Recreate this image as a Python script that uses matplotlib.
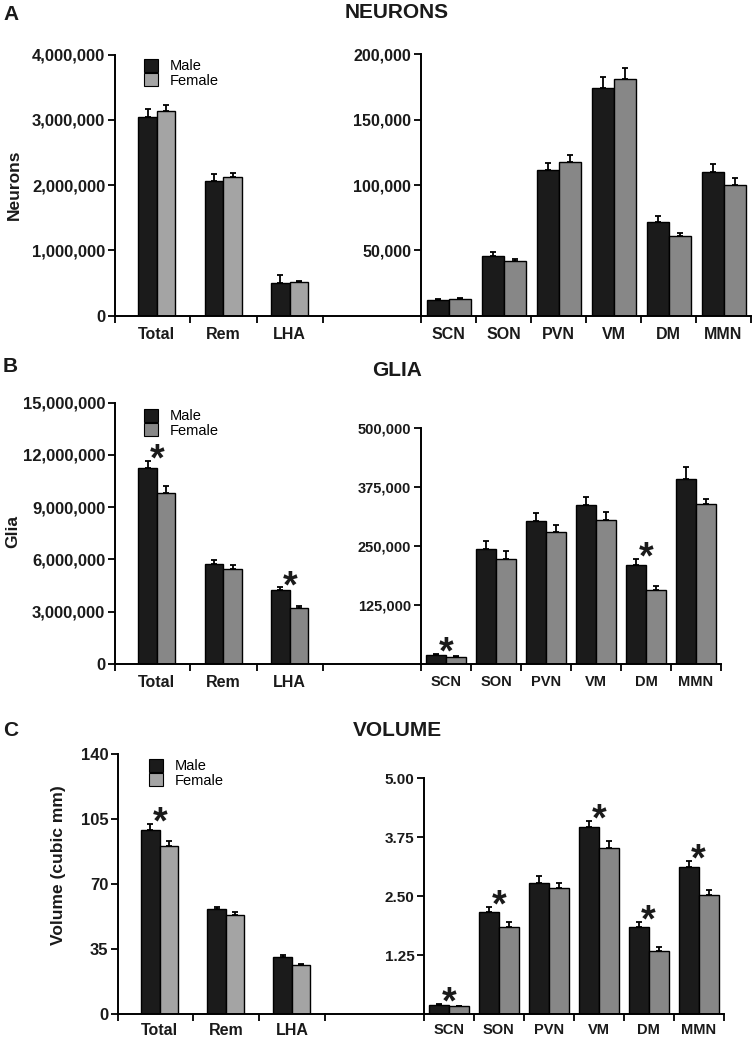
import matplotlib
matplotlib.use("Agg")
import matplotlib.pyplot as plt
from matplotlib.patches import Patch
from matplotlib.lines import Line2D
import numpy as np

plt.rcParams["font.family"] = ["Liberation Sans", "DejaVu Sans"]

# ---------------- data ----------------
categories_main = ["Total", "Rem", "LHA"]
categories_nuclei = ["SCN", "SON", "PVN", "VM", "DM", "MMN"]
series_names = ["Male", "Female"]

neurons_main_male = [3040000, 2060000, 500000]
neurons_main_male_err = [125000, 107000, 122000]
neurons_main_female = [3130000, 2120000, 515000]
neurons_main_female_err = [95000, 72000, 15000]
neurons_nuc_male = [12000, 45800, 111300, 174700, 71400, 110200]
neurons_nuc_male_err = [1000, 2800, 5600, 7700, 4600, 5600]
neurons_nuc_female = [12500, 41900, 117700, 181600, 60900, 100000]
neurons_nuc_female_err = [1300, 1800, 5600, 8200, 2800, 5600]
neurons_main_sig = [False, False, False]
neurons_nuc_sig = [False, False, False, False, False, False]

glia_main_male = [11230000, 5740000, 4250000]
glia_main_male_err = [420000, 230000, 150000]
glia_main_female = [9830000, 5430000, 3230000]
glia_main_female_err = [400000, 230000, 115000]
glia_nuc_male = [19800, 243300, 303400, 337300, 209300, 391800]
glia_nuc_male_err = [1500, 17700, 17000, 16300, 12700, 26000]
glia_nuc_female = [15600, 222800, 280000, 304800, 155600, 338000]
glia_nuc_female_err = [1000, 15500, 15000, 17000, 9200, 10600]
glia_main_sig = [True, False, True]
glia_nuc_sig = [True, False, False, False, True, False]

volume_main_male = [99.3, 56.7, 30.5]
volume_main_male_err = [3.0, 1.1, 1.1]
volume_main_female = [90.5, 53.5, 26.6]
volume_main_female_err = [2.5, 1.6, 0.5]
volume_nuc_male = [0.20, 2.16, 2.78, 3.96, 1.84, 3.12]
volume_nuc_male_err = [0.01, 0.12, 0.15, 0.14, 0.11, 0.13]
volume_nuc_female = [0.16, 1.85, 2.67, 3.52, 1.34, 2.53]
volume_nuc_female_err = [0.01, 0.10, 0.11, 0.16, 0.08, 0.09]
volume_main_sig = [True, False, False]
volume_nuc_sig = [True, True, False, True, True, True]

neurons_main_ticks = [0, 1000000, 2000000, 3000000, 4000000]
neurons_nuc_ticks = [50000, 100000, 150000, 200000]
glia_main_ticks = [0, 3000000, 6000000, 9000000, 12000000, 15000000]
glia_nuc_ticks = [125000, 250000, 375000, 500000]
volume_main_ticks = [0, 35, 70, 105, 140]
volume_nuc_ticks = [1.25, 2.50, 3.75, 5.00]
volume_main_ticklabels = ["0", "35", "70", "105", "140"]
volume_nuc_ticklabels = ["1.25", "2.50", "3.75", "5.00"]

# ---------------- style ----------------
MALE = "#1b1b1b"
FEMALE_LIGHT = "#a4a4a4"
FEMALE_MID = "#878787"
TXT = "#1a1a1a"
SP_LW = 1.4

W, H = 752, 1038
fig = plt.figure(figsize=(W / 100, H / 100), dpi=100)


def add_ax(x0, x1, ytop, ybot):
    return fig.add_axes([x0 / W, 1 - ybot / H, (x1 - x0) / W, (ybot - ytop) / H])


def fmt_comma(v):
    return "{:,}".format(int(v))


def draw_panel(ax, cats, male, male_err, female, female_err, sig, yticks, ylabels,
               ymax, xlim, width, female_color, tick_fs, cat_fs, boundaries, cat_pad=8):
    x = np.arange(len(cats))
    ax.bar(x - width / 2, male, width, color=MALE, edgecolor="black", linewidth=1.0, zorder=2)
    ax.bar(x + width / 2, female, width, color=female_color, edgecolor="black", linewidth=1.0, zorder=2)
    z = np.zeros(len(cats))
    ax.errorbar(x - width / 2, male, yerr=[z, male_err], fmt="none", ecolor="black",
                elinewidth=1.3, capsize=2.5, capthick=1.3, zorder=1)
    ax.errorbar(x + width / 2, female, yerr=[z, female_err], fmt="none", ecolor="black",
                elinewidth=1.3, capsize=2.5, capthick=1.3, zorder=1)
    for i, s in enumerate(sig):
        if s:
            ax.annotate("*", xy=(x[i], male[i] + male_err[i]), xytext=(0, -7),
                        textcoords="offset points", ha="center", va="baseline",
                        fontsize=27, fontweight="bold", color=TXT)
    ax.set_xlim(*xlim)
    ax.set_ylim(0, ymax)
    for s in ["top", "right"]:
        ax.spines[s].set_visible(False)
    for s in ["left", "bottom"]:
        ax.spines[s].set_linewidth(SP_LW)
    ax.set_xticks(boundaries)
    ax.set_xticklabels([])
    ax.set_xticks(x, minor=True)
    ax.set_xticklabels(cats, minor=True, fontsize=cat_fs, fontweight="bold", color=TXT)
    ax.tick_params(axis="x", which="major", length=5, width=1.3, direction="out")
    ax.tick_params(axis="x", which="minor", length=0, pad=cat_pad)
    ax.set_yticks(yticks)
    ax.set_yticklabels(ylabels, fontsize=tick_fs, fontweight="bold", color=TXT)
    ax.tick_params(axis="y", length=5, width=1.3, direction="out", pad=2)
    ax.patch.set_alpha(0)


def legend(ax, female_color, ax_x, ax_y):
    handles = [Patch(facecolor=MALE, edgecolor="black", linewidth=0.8),
               Patch(facecolor=female_color, edgecolor="black", linewidth=0.8)]
    ax.legend(handles, series_names, loc="upper left", bbox_to_anchor=(ax_x, ax_y),
              frameon=False, fontsize=10.5, handlelength=0.95, handleheight=0.95,
              labelspacing=0.0, handletextpad=0.8, borderpad=0, borderaxespad=0)


def baseline_link(x0, x1, y):
    fig.add_artist(Line2D([x0 / W, x1 / W], [1 - y / H, 1 - y / H],
                          transform=fig.transFigure, color="black", lw=SP_LW,
                          solid_capstyle="butt"))


left_xlim = (-0.63, 2.5)
left_bounds = [-0.63, 0.5, 1.5, 2.5]
right_xlim = (-0.5, 5.5)
right_bounds = [-0.5, 0.5, 1.5, 2.5, 3.5, 4.5, 5.5]

# ---------------- Panel A ----------------
axA1 = add_ax(115, 323, 54.5, 315.7)
draw_panel(axA1, categories_main, neurons_main_male, neurons_main_male_err,
           neurons_main_female, neurons_main_female_err, neurons_main_sig,
           neurons_main_ticks, [fmt_comma(v) for v in neurons_main_ticks], 4000000,
           left_xlim, 0.28, FEMALE_LIGHT, 12, 11.5, left_bounds)
legend(axA1, FEMALE_LIGHT, 0.139, 0.983)

axA2 = add_ax(421, 751, 54.5, 315.7)
draw_panel(axA2, categories_nuclei, neurons_nuc_male, neurons_nuc_male_err,
           neurons_nuc_female, neurons_nuc_female_err, neurons_nuc_sig,
           neurons_nuc_ticks, [fmt_comma(v) for v in neurons_nuc_ticks], 200000,
           right_xlim, 0.40, FEMALE_MID, 11.5, 11.5, right_bounds)
baseline_link(322, 422, 315.7)

# ---------------- Panel B ----------------
axB1 = add_ax(115, 323, 402.7, 664)
draw_panel(axB1, categories_main, glia_main_male, glia_main_male_err,
           glia_main_female, glia_main_female_err, glia_main_sig,
           glia_main_ticks, [fmt_comma(v) for v in glia_main_ticks], 15000000,
           left_xlim, 0.28, FEMALE_MID, 12, 11.5, left_bounds)
legend(axB1, FEMALE_MID, 0.139, 0.976)

axB2 = add_ax(421, 721, 427.7, 664)
draw_panel(axB2, categories_nuclei, glia_nuc_male, glia_nuc_male_err,
           glia_nuc_female, glia_nuc_female_err, glia_nuc_sig,
           glia_nuc_ticks, [fmt_comma(v) for v in glia_nuc_ticks], 500000,
           right_xlim, 0.40, FEMALE_MID, 10.5, 10.5, right_bounds)
baseline_link(322, 422, 664)

# ---------------- Panel C ----------------
axC1 = add_ax(118, 325, 754, 1014)
draw_panel(axC1, categories_main, volume_main_male, volume_main_male_err,
           volume_main_female, volume_main_female_err, volume_main_sig,
           volume_main_ticks, volume_main_ticklabels, 140,
           left_xlim, 0.28, FEMALE_LIGHT, 12, 11.5, left_bounds, cat_pad=6.5)
legend(axC1, FEMALE_LIGHT, 0.15, 0.981)

axC2 = add_ax(424, 723.5, 778.3, 1014)
draw_panel(axC2, categories_nuclei, volume_nuc_male, volume_nuc_male_err,
           volume_nuc_female, volume_nuc_female_err, volume_nuc_sig,
           volume_nuc_ticks, volume_nuc_ticklabels, 5.0,
           right_xlim, 0.40, FEMALE_MID, 11, 10.5, right_bounds, cat_pad=6.5)
baseline_link(324, 425, 1014)

# ---------------- titles and labels ----------------
def ftext(x, y, s, **kw):
    fig.text(x / W, 1 - y / H, s, color=TXT, **kw)

ftext(3, 15, "A", fontsize=15, fontweight="bold", ha="left", va="center")
ftext(3, 367, "B", fontsize=15, fontweight="bold", ha="left", va="center")
ftext(3, 730, "C", fontsize=15, fontweight="bold", ha="left", va="center")

ftext(397, 13, "NEURONS", fontsize=15, fontweight="bold", ha="center", va="center")
ftext(397, 370, "GLIA", fontsize=15, fontweight="bold", ha="center", va="center")
ftext(397, 731, "VOLUME", fontsize=15, fontweight="bold", ha="center", va="center")

ftext(14, 185, "Neurons", fontsize=12.5, fontweight="bold", ha="center", va="center", rotation=90)
ftext(13, 531, "Glia", fontsize=12.5, fontweight="bold", ha="center", va="center", rotation=90)
ftext(58, 865, "Volume (cubic mm)", fontsize=12.5, fontweight="bold", ha="center", va="center", rotation=90)

fig.savefig("out.png", dpi=100, facecolor="white")
